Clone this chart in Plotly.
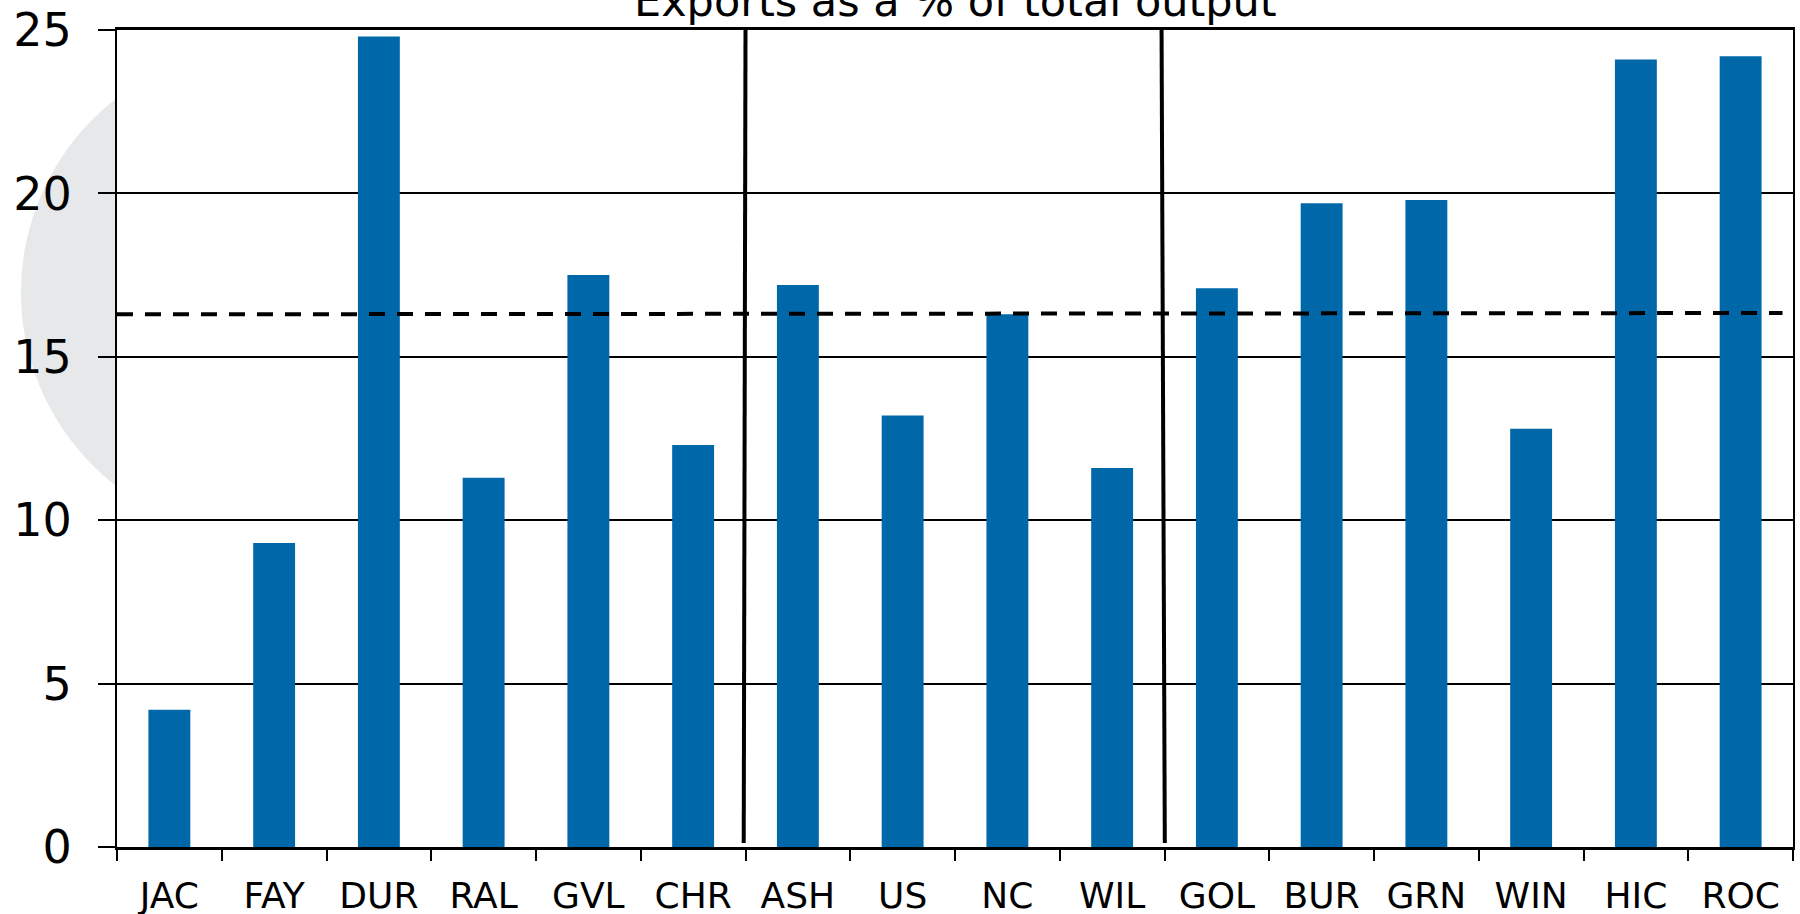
import plotly.graph_objects as go

categories = ["JAC", "FAY", "DUR", "RAL", "GVL", "CHR", "ASH", "US",
              "NC", "WIL", "GOL", "BUR", "GRN", "WIN", "HIC", "ROC"]
export_share = [4.2, 9.3, 24.8, 11.3, 17.5, 12.3, 17.2, 13.2,
                16.3, 11.6, 17.1, 19.7, 19.8, 12.8, 24.1, 24.2]

# reference (dashed) line: start / end values
ref_line_x = [-0.5, 15.4]
ref_line_y = [16.3, 16.34]

# group separators (category-axis positions at top and bottom)
sep1_x = [5.5, 5.483]
sep2_x = [9.472, 9.503]
sep_y = [25, 0.12]

y_ticks = [0, 5, 10, 15, 20, 25]
title_text = "Exports as a % of total output"

BAR = "#0068A9"
FONT = "DejaVu Sans"

fig = go.Figure()
fig.add_trace(go.Bar(
    x=list(range(len(categories))), y=export_share,
    marker=dict(color=BAR, line=dict(width=0)),
    width=0.4, showlegend=False, hoverinfo="skip",
))
fig.add_trace(go.Scatter(
    x=ref_line_x, y=ref_line_y, mode="lines",
    line=dict(color="black", width=4, dash="16px,12px"),
    showlegend=False, hoverinfo="skip",
))
for sx in (sep1_x, sep2_x):
    fig.add_trace(go.Scatter(
        x=sx, y=sep_y, mode="lines",
        line=dict(color="black", width=4),
        showlegend=False, hoverinfo="skip", cliponaxis=False,
    ))

shapes = [
    dict(type="circle", xref="paper", yref="paper",
         x0=-0.0573, x1=0.2351, y0=0.3792, y1=0.9786,
         fillcolor="#E7E8EA", line=dict(width=0), layer="below"),
    dict(type="rect", xref="paper", yref="paper",
         x0=0, x1=1, y0=0, y1=1,
         fillcolor="white", line=dict(width=0), layer="below"),
]

fig.update_layout(
    width=1800, height=914,
    template="none",
    paper_bgcolor="white", plot_bgcolor="white",
    margin=dict(l=117, r=7, t=29.5, b=67, autoexpand=False),
    font=dict(family=FONT, color="black"),
    shapes=shapes,
    annotations=[dict(
        text=title_text, xref="paper", yref="paper", x=0.5, y=1,
        xanchor="center", yanchor="middle", yshift=29, showarrow=False,
        font=dict(size=43, family=FONT, color="black"),
    )],
    xaxis=dict(
        range=[-0.5, 15.5],
        tickmode="array",
        tickvals=list(range(len(categories))),
        ticktext=categories,
        showgrid=False, zeroline=False,
        showline=True, linecolor="black", linewidth=2.5, mirror=True,
        ticks="", tickfont=dict(size=36, family=FONT, color="black"),
        ticklabelstandoff=15,
        automargin=False,
    ),
    xaxis2=dict(
        overlaying="x", range=[-0.5, 15.5],
        tickmode="array", tickvals=[i - 0.5 for i in range(len(categories) + 1)],
        ticktext=[""] * (len(categories) + 1),
        ticks="outside", ticklen=13, tickwidth=2, tickcolor="black",
        showgrid=False, zeroline=False, showline=False,
        side="bottom", automargin=False,
    ),
    yaxis=dict(
        range=[0, 25], tickmode="array", tickvals=y_ticks,
        showgrid=True, gridcolor="black", gridwidth=2,
        zeroline=False,
        showline=True, linecolor="black", linewidth=2, mirror=True,
        ticks="outside", ticklen=17, tickwidth=2, tickcolor="black",
        tickfont=dict(size=46, family=FONT, color="black"),
        ticklabelstandoff=17,
        automargin=False,
    ),
)
# invisible trace to activate xaxis2 tick marks
fig.add_trace(go.Scatter(x=[0], y=[0], xaxis="x2", mode="markers",
                         marker=dict(opacity=0), showlegend=False, hoverinfo="skip"))

fig.write_html("out.html",
               config={"displayModeBar": False},
               post_script="document.body.style.margin='0';document.body.style.overflow='hidden';")
